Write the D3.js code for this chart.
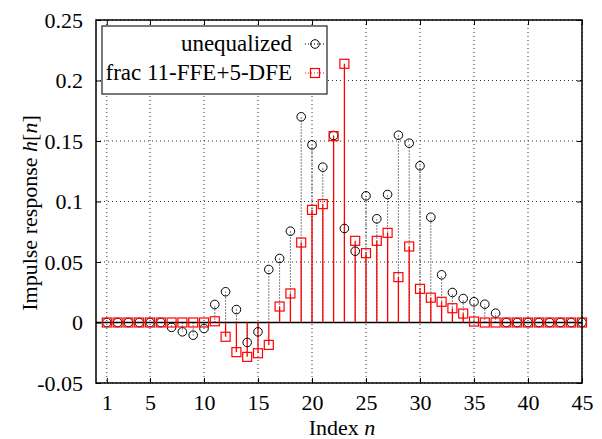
<!DOCTYPE html>
<html><head><meta charset="utf-8">
<script src="https://cdn.jsdelivr.net/npm/d3@7"></script>
<style>html,body{margin:0;padding:0;background:#fff;}svg{display:block;}</style>
</head><body>
<svg id="chart" width="602" height="439"></svg>
<script>
const indices = d3.range(1, 46);
const unequalized = [0,0,0,0,0,0,-0.004,-0.0077,-0.0105,-0.005,0.0149,0.0254,0.0107,-0.0165,-0.0077,
  0.0438,0.0529,0.0755,0.170,0.1468,0.1284,0.1545,0.0777,0.0589,0.1047,0.0857,0.1058,0.1548,0.1482,0.1295,
  0.087,0.0394,0.0248,0.0198,0.0171,0.0151,0.0077,0,0,0,0,0,0,0,0];
const equalized = [0,0,0,0,0,0,0,0,0,0,0.001,-0.0118,-0.0245,-0.0284,-0.0254,
  -0.0185,0.0132,0.024,0.0661,0.0931,0.0978,0.154,0.2138,0.0675,0.0573,0.0675,0.0741,0.0375,0.0628,0.0278,
  0.0205,0.0171,0.0118,0.0074,0.0008,0,0,0,0,0,0,0,0,0,0];
const xTicks = [1,5,10,15,20,25,30,35,40,45];
const yTicks = [-0.05,0,0.05,0.1,0.15,0.2,0.25];
const seriesNames = ["unequalized","frac 11-FFE+5-DFE"];

const svg = d3.select("#chart");
const L = 96, R = 582, T = 20, B = 383;
const x = d3.scaleLinear().domain([0,45]).range([L,R]);
const y = d3.scaleLinear().domain([-0.05,0.25]).range([B,T]);
const font = "'Liberation Serif','Times New Roman',serif";

// grid
const g = svg.append("g");
g.selectAll(".gx").data(xTicks).enter().append("line")
  .attr("x1",d=>x(d)).attr("x2",d=>x(d)).attr("y1",T).attr("y2",B)
  .attr("stroke","#333").attr("stroke-width",1).attr("stroke-dasharray","1,3");
g.selectAll(".gy").data(yTicks.filter(v=>v!==0)).enter().append("line")
  .attr("x1",L).attr("x2",R).attr("y1",d=>y(d)).attr("y2",d=>y(d))
  .attr("stroke","#333").attr("stroke-width",1).attr("stroke-dasharray","1,3");

// axes
const xAxB = d3.axisBottom(x).tickValues(xTicks).tickSize(-5).tickPadding(11).tickFormat(d3.format("d"));
const xAxT = d3.axisTop(x).tickValues(xTicks).tickSize(-5).tickFormat("");
const yAxL = d3.axisLeft(y).tickValues(yTicks).tickSize(-5).tickPadding(13).tickFormat(d=>d===0?"0":String(d));
const yAxR = d3.axisRight(y).tickValues(yTicks).tickSize(-5).tickFormat("");
function styleAxis(sel){
  sel.select(".domain").remove();
  sel.selectAll(".tick line").attr("stroke","#000").attr("stroke-width",1);
  sel.selectAll("text").attr("font-family",font).attr("font-size",22).attr("fill","#000");
}
svg.append("g").attr("transform",`translate(0,${B})`).call(xAxB).call(styleAxis);
svg.append("g").attr("transform",`translate(0,${T})`).call(xAxT).call(styleAxis);
svg.append("g").attr("transform",`translate(${L},0)`).call(yAxL).call(styleAxis);
svg.append("g").attr("transform",`translate(${R},0)`).call(yAxR).call(styleAxis);

// zero line
svg.append("line").attr("x1",L).attr("x2",R).attr("y1",y(0)).attr("y2",y(0))
  .attr("stroke","#000").attr("stroke-width",1.5);

// stems black dotted
svg.append("g").selectAll("line").data(indices).enter().append("line")
  .attr("x1",d=>x(d)).attr("x2",d=>x(d)).attr("y1",y(0)).attr("y2",(d,i)=>y(unequalized[i]))
  .attr("stroke","#000").attr("stroke-width",1).attr("stroke-dasharray","1,2");
// stems red solid
svg.append("g").selectAll("line").data(indices).enter().append("line")
  .attr("x1",d=>x(d)).attr("x2",d=>x(d)).attr("y1",y(0)).attr("y2",(d,i)=>y(equalized[i]))
  .attr("stroke","#ff0000").attr("stroke-width",1.3);

// circles
svg.append("g").selectAll("circle").data(indices).enter().append("circle")
  .attr("cx",d=>x(d)).attr("cy",(d,i)=>y(unequalized[i])).attr("r",4.3)
  .attr("fill","none").attr("stroke","#000").attr("stroke-width",1);
// squares
const s = 9;
svg.append("g").selectAll("rect").data(indices).enter().append("rect")
  .attr("x",d=>x(d)-s/2).attr("y",(d,i)=>y(equalized[i])-s/2).attr("width",s).attr("height",s)
  .attr("fill","none").attr("stroke","#ff0000").attr("stroke-width",1.2);

// frame
svg.append("rect").attr("x",L).attr("y",T).attr("width",R-L).attr("height",B-T)
  .attr("fill","none").attr("stroke","#000").attr("stroke-width",1.5);

// legend
const lg = svg.append("g");
lg.append("rect").attr("x",102).attr("y",26).attr("width",225).attr("height",68)
  .attr("fill","#fff").attr("stroke","#333").attr("stroke-width",1.3);
lg.append("text").attr("x",292).attr("y",51).attr("text-anchor","end")
  .attr("font-family",font).attr("font-size",23).text(seriesNames[0]);
lg.append("text").attr("x",292).attr("y",80).attr("text-anchor","end")
  .attr("font-family",font).attr("font-size",23).text(seriesNames[1]);
lg.append("line").attr("x1",305).attr("x2",325).attr("y1",44).attr("y2",44)
  .attr("stroke","#000").attr("stroke-dasharray","1,2");
lg.append("circle").attr("cx",315).attr("cy",44).attr("r",4.3).attr("fill","none").attr("stroke","#000");
lg.append("line").attr("x1",305).attr("x2",325).attr("y1",73).attr("y2",73)
  .attr("stroke","#ff0000").attr("stroke-dasharray","1,2");
lg.append("rect").attr("x",315-s/2).attr("y",73-s/2).attr("width",s).attr("height",s)
  .attr("fill","none").attr("stroke","#ff0000").attr("stroke-width",1.2);

// axis labels
const xl = svg.append("text").attr("x",342).attr("y",435).attr("text-anchor","middle")
  .attr("font-family",font).attr("font-size",22);
xl.append("tspan").text("Index ");
xl.append("tspan").attr("font-style","italic").text("n");
const yl = svg.append("text").attr("transform","translate(37,213) rotate(-90)").attr("text-anchor","middle")
  .attr("font-family",font).attr("font-size",22);
yl.append("tspan").text("Impulse response ");
yl.append("tspan").attr("font-style","italic").text("h");
yl.append("tspan").text("[");
yl.append("tspan").attr("font-style","italic").text("n");
yl.append("tspan").text("]");
</script>
</body></html>
